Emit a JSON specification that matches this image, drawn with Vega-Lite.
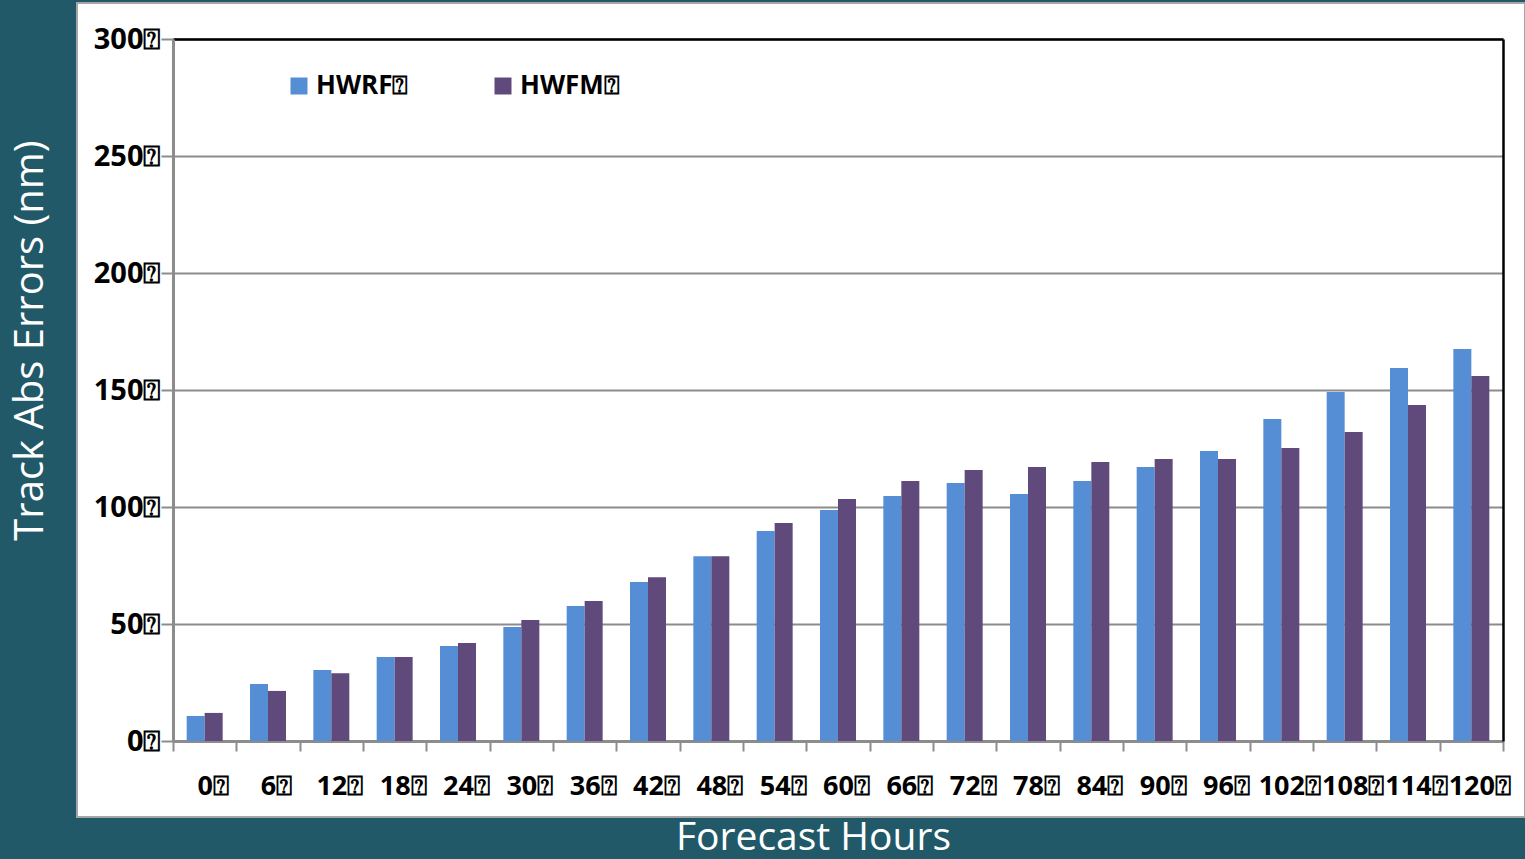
{
  "$schema": "https://vega.github.io/schema/vega-lite/v6.json",
  "width": 1448,
  "height": 814,
  "autosize": {"type": "none"},
  "padding": {"left": 77, "top": 3, "right": 0, "bottom": 42},
  "background": "#215968",
  "config": {
    "view": {"fill": "white", "stroke": "#a6a6a6", "strokeWidth": 2},
    "font": "Open Sans"
  },
  "data": {
    "values": [
      {"hour": 0, "model": "HWRF", "value": 10.7}, {"hour": 0, "model": "HWFM", "value": 12.0},
      {"hour": 6, "model": "HWRF", "value": 24.4}, {"hour": 6, "model": "HWFM", "value": 21.4},
      {"hour": 12, "model": "HWRF", "value": 30.3}, {"hour": 12, "model": "HWFM", "value": 29.0},
      {"hour": 18, "model": "HWRF", "value": 35.9}, {"hour": 18, "model": "HWFM", "value": 35.9},
      {"hour": 24, "model": "HWRF", "value": 40.6}, {"hour": 24, "model": "HWFM", "value": 41.9},
      {"hour": 30, "model": "HWRF", "value": 48.7}, {"hour": 30, "model": "HWFM", "value": 51.7},
      {"hour": 36, "model": "HWRF", "value": 57.7}, {"hour": 36, "model": "HWFM", "value": 59.8},
      {"hour": 42, "model": "HWRF", "value": 67.9}, {"hour": 42, "model": "HWFM", "value": 70.0},
      {"hour": 48, "model": "HWRF", "value": 79.0}, {"hour": 48, "model": "HWFM", "value": 79.0},
      {"hour": 54, "model": "HWRF", "value": 89.7}, {"hour": 54, "model": "HWFM", "value": 93.2},
      {"hour": 60, "model": "HWRF", "value": 98.7}, {"hour": 60, "model": "HWFM", "value": 103.4},
      {"hour": 66, "model": "HWRF", "value": 104.7}, {"hour": 66, "model": "HWFM", "value": 111.1},
      {"hour": 72, "model": "HWRF", "value": 110.3}, {"hour": 72, "model": "HWFM", "value": 115.8},
      {"hour": 78, "model": "HWRF", "value": 105.6}, {"hour": 78, "model": "HWFM", "value": 117.1},
      {"hour": 84, "model": "HWRF", "value": 111.1}, {"hour": 84, "model": "HWFM", "value": 119.2},
      {"hour": 90, "model": "HWRF", "value": 117.1}, {"hour": 90, "model": "HWFM", "value": 120.5},
      {"hour": 96, "model": "HWRF", "value": 123.9}, {"hour": 96, "model": "HWFM", "value": 120.5},
      {"hour": 102, "model": "HWRF", "value": 137.6}, {"hour": 102, "model": "HWFM", "value": 125.2},
      {"hour": 108, "model": "HWRF", "value": 149.1}, {"hour": 108, "model": "HWFM", "value": 132.0},
      {"hour": 114, "model": "HWRF", "value": 159.4}, {"hour": 114, "model": "HWFM", "value": 143.6},
      {"hour": 120, "model": "HWRF", "value": 167.5}, {"hour": 120, "model": "HWFM", "value": 156.0}
    ]
  },
  "resolve": {"axis": {"x": "independent", "y": "independent"}},
  "layer": [
    {
      "mark": {"type": "bar"},
      "encoding": {
        "x": {
          "field": "hour", "type": "ordinal", "sort": null,
          "scale": {"range": [96, 1426], "paddingInner": 0, "paddingOuter": 0},
          "axis": {
            "orient": "bottom", "offset": -76, "labelAngle": 0,
            "labelExpr": "datum.label ? datum.label + '⍰' : ''",
            "labelFont": "Open Sans", "labelFontWeight": "bold", "labelFontSize": 27, "labelColor": "black",
            "labelPadding": 22, "labelOffset": 8,
            "tickBand": "extent", "tickSize": 10, "tickColor": "#8c8c8c", "tickWidth": 2,
            "domainColor": "#8c8c8c", "domainWidth": 3,
            "grid": false,
            "title": "Forecast Hours", "titleColor": "white", "titleFont": "Open Sans", "titleFontSize": 39,
            "titleFontWeight": "normal", "titleX": 736, "titleY": 96, "titleBaseline": "middle", "titleAlign": "center"
          }
        },
        "xOffset": {"field": "model", "type": "nominal", "scale": {"domain": ["HWRF", "HWFM"], "paddingInner": 0, "paddingOuter": 0.76}},
        "y": {
          "field": "value", "type": "quantitative",
          "scale": {"domain": [0, 300], "nice": false, "range": [738, 36]},
          "axis": {
            "orient": "left", "offset": -96, "values": [0, 50, 100, 150, 200, 250, 300],
            "labelExpr": "datum.label + '⍰'",
            "labelFont": "Open Sans", "labelFontWeight": "bold", "labelFontSize": 29, "labelColor": "black",
            "labelPadding": 1, "labelDy": 3,
            "tickSize": 12, "tickColor": "#8c8c8c", "tickWidth": 2,
            "domainColor": "#8c8c8c", "domainWidth": 3,
            "grid": true, "gridColor": "#8c8c8c", "gridWidth": 2,
            "title": "Track Abs Errors (nm)", "titleColor": "white", "titleFont": "Open Sans", "titleFontSize": 40,
            "titleFontWeight": "normal", "titleX": -143, "titleY": 337, "titleBaseline": "middle", "titleAlign": "center", "titleAngle": -90
          }
        },
        "color": {
          "field": "model", "type": "nominal",
          "scale": {"domain": ["HWRF", "HWFM"], "range": ["#558ed5", "#604a7b"]},
          "legend": {
            "title": null, "orient": "none", "direction": "horizontal",
            "legendX": 209, "legendY": 70, "padding": 0,
            "symbolType": "square", "symbolSize": 289, "symbolStrokeWidth": 0, "symbolOpacity": 1,
            "labelExpr": "datum.label + '⍰'",
            "labelFont": "Open Sans", "labelFontWeight": "bold", "labelFontSize": 26, "labelColor": "black",
            "labelOffset": 4, "columnPadding": 81
          }
        }
      }
    },
    {
      "mark": {"type": "bar", "opacity": 0},
      "encoding": {
        "x": {
          "field": "hour", "type": "ordinal", "sort": null,
          "axis": {"orient": "top", "offset": -36, "labels": false, "ticks": false, "grid": false, "title": null,
                   "domainColor": "black", "domainWidth": 2.5}
        },
        "y": {
          "field": "value", "type": "quantitative",
          "axis": {"orient": "right", "offset": -22, "labels": false, "ticks": false, "grid": false, "title": null,
                   "domainColor": "black", "domainWidth": 2.5}
        }
      }
    }
  ]
}
